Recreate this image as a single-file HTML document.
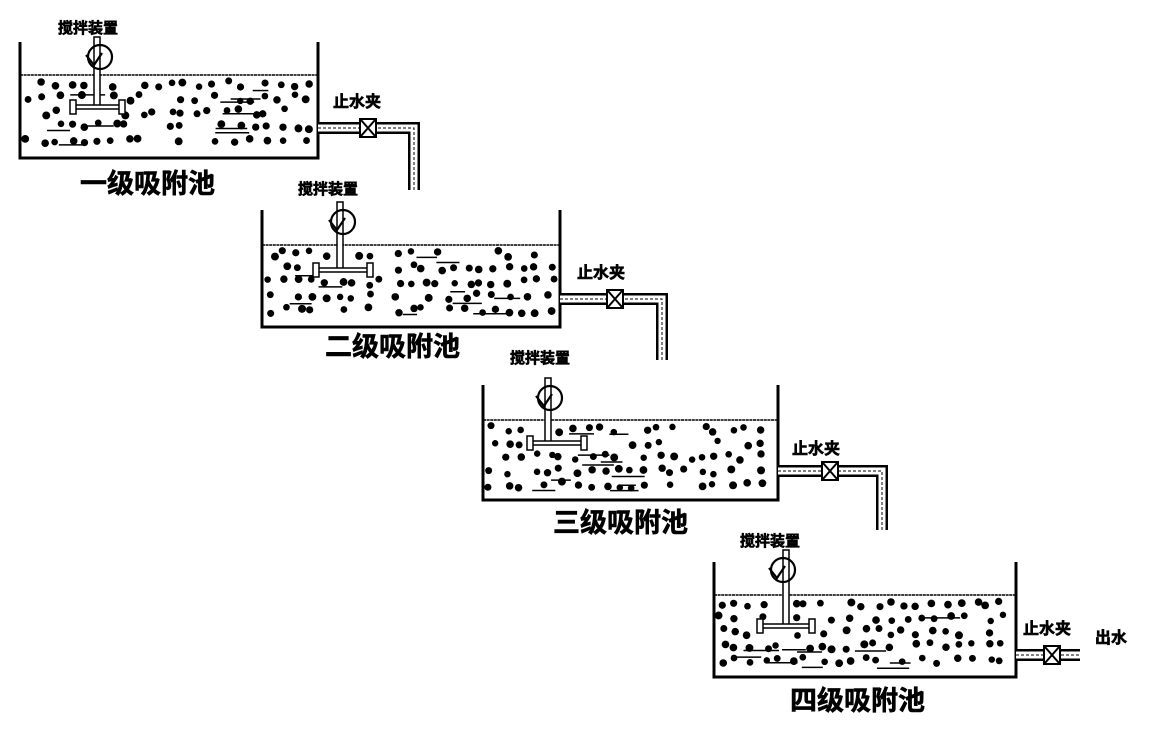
<!DOCTYPE html>
<html><head><meta charset="utf-8">
<style>
html,body{margin:0;padding:0;background:#fff;width:1154px;height:735px;overflow:hidden}
svg text{font-family:"Liberation Sans","Noto Sans CJK SC",sans-serif;font-weight:bold;fill:#000;stroke:#000;stroke-width:0.6}
</style></head><body>
<svg id="s" width="1154" height="735" viewBox="0 0 1154 735" xmlns="http://www.w3.org/2000/svg">
<text x="58" y="33" font-size="15">搅拌装置</text>
<text x="80" y="193" font-size="27">一级吸附池</text>
<text x="333" y="107" font-size="16">止水夹</text>
<text x="298" y="194" font-size="15">搅拌装置</text>
<text x="325" y="356" font-size="27">二级吸附池</text>
<text x="577" y="278" font-size="16">止水夹</text>
<text x="510" y="363" font-size="15">搅拌装置</text>
<text x="553" y="532" font-size="27">三级吸附池</text>
<text x="792" y="454" font-size="16">止水夹</text>
<text x="740" y="546" font-size="15">搅拌装置</text>
<text x="790" y="710" font-size="27">四级吸附池</text>
<text x="1023" y="634" font-size="16">止水夹</text>
<text x="1095" y="643" font-size="16">出水</text>
</svg>
<script>
var s=document.getElementById('s'),NS='http://www.w3.org/2000/svg';
function el(t,a){var e=document.createElementNS(NS,t);for(var k in a)e.setAttribute(k,a[k]);s.appendChild(e);return e;}
var seed=7;function r(){seed=(seed*16807)%2147483647;return seed/2147483647;}
var tanks=[
 {l:20,t:42,b:158,rt:318,w:75,cx:100,cy:57,sx:97,iy:107,il:73,ir:122,py:128,pe:420,down:190,vx:368},
 {l:262,t:210,b:327,rt:560,w:245,cx:343,cy:222,sx:340,iy:270,il:316,ir:370,py:299,pe:668,down:360,vx:615},
 {l:483,t:385,b:500,rt:778,w:420,cx:550,cy:398,sx:548,iy:443,il:530,ir:584,py:471,pe:888,down:530,vx:830},
 {l:714,t:562,b:677,rt:1016,w:595,cx:783,cy:570,sx:786,iy:626,il:760,ir:812,py:655,pe:1080,down:0,vx:1052}];
tanks.forEach(function(T){
 el('line',{x1:T.l,y1:T.w,x2:T.rt,y2:T.w,stroke:'#000','stroke-width':1.5,'stroke-dasharray':'3 0.6'});
 var gx=14,gy=14;
 for(var y=T.w+9;y<T.b-5;y+=gy){for(var x=T.l+9;x<T.rt-6;x+=gx){
  if(r()<0.18)continue;
  var px=x+(r()-0.5)*9,py=y+(r()-0.5)*7;
  if(Math.abs(px-T.sx)<7&&py<T.iy+6)continue;
  if(Math.abs(py-T.iy)<7&&px>T.il-6&&px<T.ir+6)continue;
  el('circle',{cx:px,cy:py,r:3.2+r()*0.8,fill:'#000'});}}
 for(var i=0;i<10;i++){var x=T.l+15+r()*(T.rt-T.l-70),y=T.w+12+r()*(T.b-T.w-20);
  el('line',{x1:x,y1:y,x2:x+14+r()*22,y2:y,stroke:'#000','stroke-width':1.5});}
 el('path',{d:'M'+T.l+' '+T.t+' V'+T.b+' H'+T.rt+' V'+T.t,fill:'none',stroke:'#000','stroke-width':3});
 el('rect',{x:T.sx-3,y:T.cy-20,width:6,height:T.iy-T.cy+20,fill:'#fff',stroke:'#000','stroke-width':1.5});
 el('circle',{cx:T.cx,cy:T.cy,r:12,fill:'none',stroke:'#000','stroke-width':2.2});
 el('path',{d:'M'+(T.cx-14)+' '+(T.cy-2)+' L'+(T.cx-6)+' '+(T.cy+8)+' L'+(T.cx+2)+' '+(T.cy-4),fill:'none',stroke:'#000','stroke-width':2.2});
 el('rect',{x:T.il,y:T.iy-2,width:T.ir-T.il,height:4,fill:'#fff',stroke:'#000','stroke-width':1.5});
 el('rect',{x:T.il-3,y:T.iy-7,width:6,height:14,fill:'#fff',stroke:'#000','stroke-width':1.5});
 el('rect',{x:T.ir-3,y:T.iy-7,width:6,height:14,fill:'#fff',stroke:'#000','stroke-width':1.5});
 var d='M'+T.rt+' '+T.py+' H'+(T.pe-6);
 if(T.down)d+=' V'+T.down; else d='M'+T.rt+' '+T.py+' H'+T.pe;
 el('path',{d:d,fill:'none',stroke:'#000','stroke-width':12});
 el('path',{d:d,fill:'none',stroke:'#fff','stroke-width':7});
 el('path',{d:d,fill:'none',stroke:'#000','stroke-width':1,'stroke-dasharray':'3 2'});
 el('rect',{x:T.vx-8,y:T.py-9,width:16,height:18,fill:'#fff',stroke:'#000','stroke-width':2});
 el('path',{d:'M'+(T.vx-7)+' '+(T.py-8)+' L'+(T.vx+7)+' '+(T.py+8)+' M'+(T.vx+7)+' '+(T.py-8)+' L'+(T.vx-7)+' '+(T.py+8),stroke:'#000','stroke-width':2});
});
</script>
</body></html>
